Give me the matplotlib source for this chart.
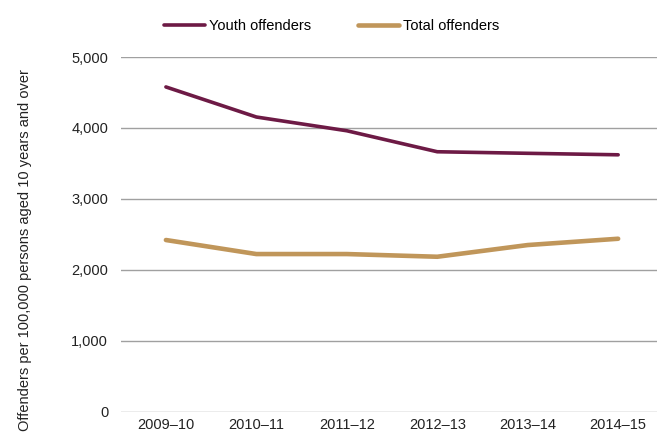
import matplotlib.pyplot as plt
from matplotlib.ticker import FuncFormatter

plt.rcParams["font.family"] = ["Liberation Sans", "DejaVu Sans"]

# --- Offending rates per 100,000 persons aged 10 and over ---
years = ["2009\u201310", "2010\u201311", "2011\u201312", "2012\u201313", "2013\u201314", "2014\u201315"]
youth = [4578, 4154, 3960, 3664, 3642, 3621]
total = [2419, 2221, 2221, 2183, 2348, 2437]

fs = 10.5

fig = plt.figure(figsize=(6.57, 4.34), dpi=100)
ax = fig.add_axes([0.1837, 0.0518, 0.826, 0.8168])

x = range(len(years))
ax.plot(x, youth, color="#6d1a45", lw=2.6, solid_capstyle="round", label="Youth offenders")
ax.plot(x, total, color="#c0965a", lw=3.3, solid_capstyle="round", label="Total offenders")

ax.set_xlim(-0.5, len(years) - 0.5)
ax.set_ylim(0, 5000)
ax.set_yticks(range(0, 5001, 1000))
ax.yaxis.set_major_formatter(FuncFormatter(lambda v, p: f"{int(v):,}"))
ax.set_xticks(list(x))
ax.set_xticklabels(years)
ax.tick_params(axis="both", length=0, labelsize=fs, colors="#222222")
ax.tick_params(axis="x", pad=5)
ax.tick_params(axis="y", pad=9)

ax.grid(axis="y", color="#a0a0a0", lw=1)
ax.set_axisbelow(True)
for s in ax.spines.values():
    s.set_visible(False)

ax.set_ylabel("Offenders per 100,000 persons aged 10 years and over", fontsize=fs,
              color="#222222", labelpad=28, y=0.455)

fig.legend(loc="center", bbox_to_anchor=(0.505, 0.94), ncol=2, frameon=False,
           fontsize=fs, handlelength=2.8, handletextpad=0.3, columnspacing=3.2)

plt.savefig("out.png", dpi=100)
